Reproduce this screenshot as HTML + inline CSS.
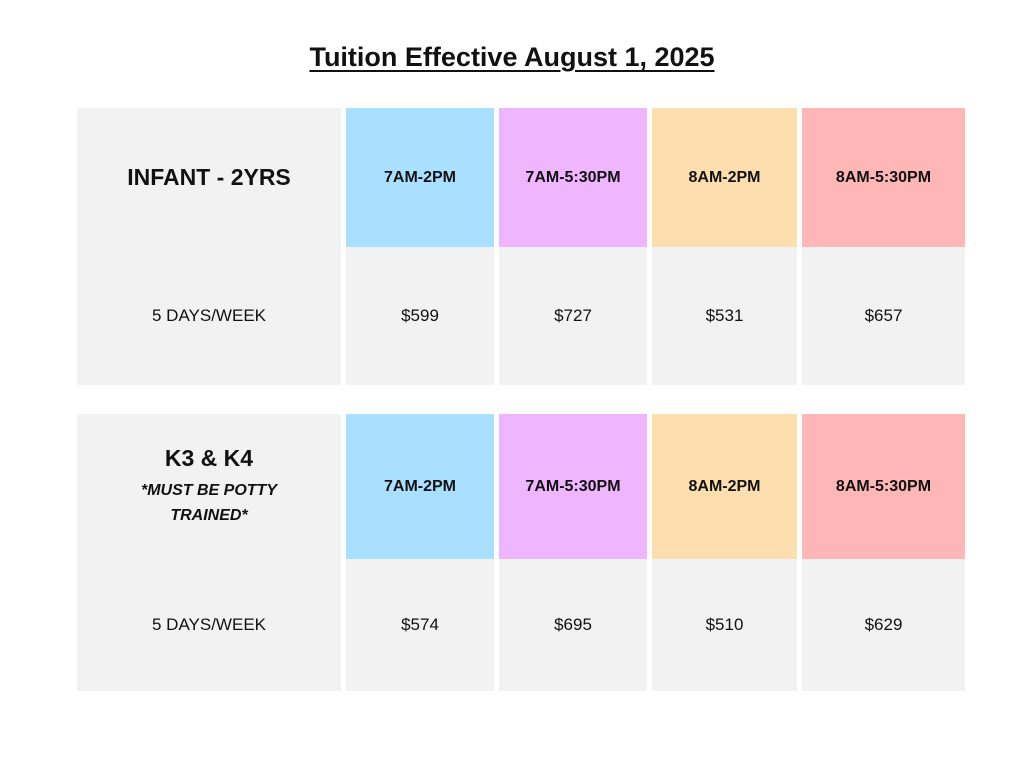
<!DOCTYPE html>
<html><head><meta charset="utf-8"><style>
body{margin:0;width:1024px;height:768px;background:#fff;font-family:"Liberation Sans",sans-serif;position:relative;overflow:hidden}
.t{position:absolute;left:0;width:1024px;top:42px;text-align:center;font-size:27px;font-weight:bold;text-decoration:underline;text-underline-offset:4px;color:#111}
.c{position:absolute;display:flex;align-items:center;justify-content:center;text-align:center;color:#111;box-sizing:border-box}
.g{background:#f2f2f2}
.h{font-weight:bold;font-size:16px}
.v{font-size:17px}
</style></head><body>
<div class="t">Tuition Effective August 1, 2025</div>
<div id="root"></div>
<script>
const groups=["INFANT - 2YRS","K3 & K4"];
const slots=["7AM-2PM","7AM-5:30PM","8AM-2PM","8AM-5:30PM"];
const pricesInfant=[599,727,531,657];
const pricesK=[574,695,510,629];
const colors=["#a9dfff","#efb6ff","#fddeae","#ffb6b6"];
const cols=[[77,341],[346,494],[499,647],[652,797],[802,965]];
const tables=[{top:108,mid:247,bot:385,prices:pricesInfant},{top:414,mid:559,bot:691,prices:pricesK}];
const root=document.getElementById('root');
function cell(x0,x1,y0,y1,cls,html,bg){const d=document.createElement('div');d.className='c '+cls;d.style.left=x0+'px';d.style.width=(x1-x0)+'px';d.style.top=y0+'px';d.style.height=(y1-y0)+'px';if(bg)d.style.background=bg;d.innerHTML=html;root.appendChild(d);return d;}
tables.forEach((t,i)=>{
 const lab=i==0?'<span style="font-size:23px;font-weight:bold">'+groups[0]+'</span>':'<div><div style="font-size:23px;font-weight:bold;margin-bottom:6px">'+groups[1].replace('&','&amp;')+'</div><div style="font-size:16px;font-weight:bold;font-style:italic;line-height:25px">*MUST BE POTTY<br>TRAINED*</div></div>';
 let d=cell(cols[0][0],cols[0][1],t.top,t.mid,'g',lab);
 
 
 d=cell(cols[0][0],cols[0][1],t.mid,t.bot,'g v','5 DAYS/WEEK');
 
 
 slots.forEach((s,j)=>{
  d=cell(cols[j+1][0],cols[j+1][1],t.top,t.mid,'h',s,colors[j]);
  
  
  d=cell(cols[j+1][0],cols[j+1][1],t.mid,t.bot,'g v','$'+t.prices[j]);
  
  
 });
});
</script>
</body></html>
